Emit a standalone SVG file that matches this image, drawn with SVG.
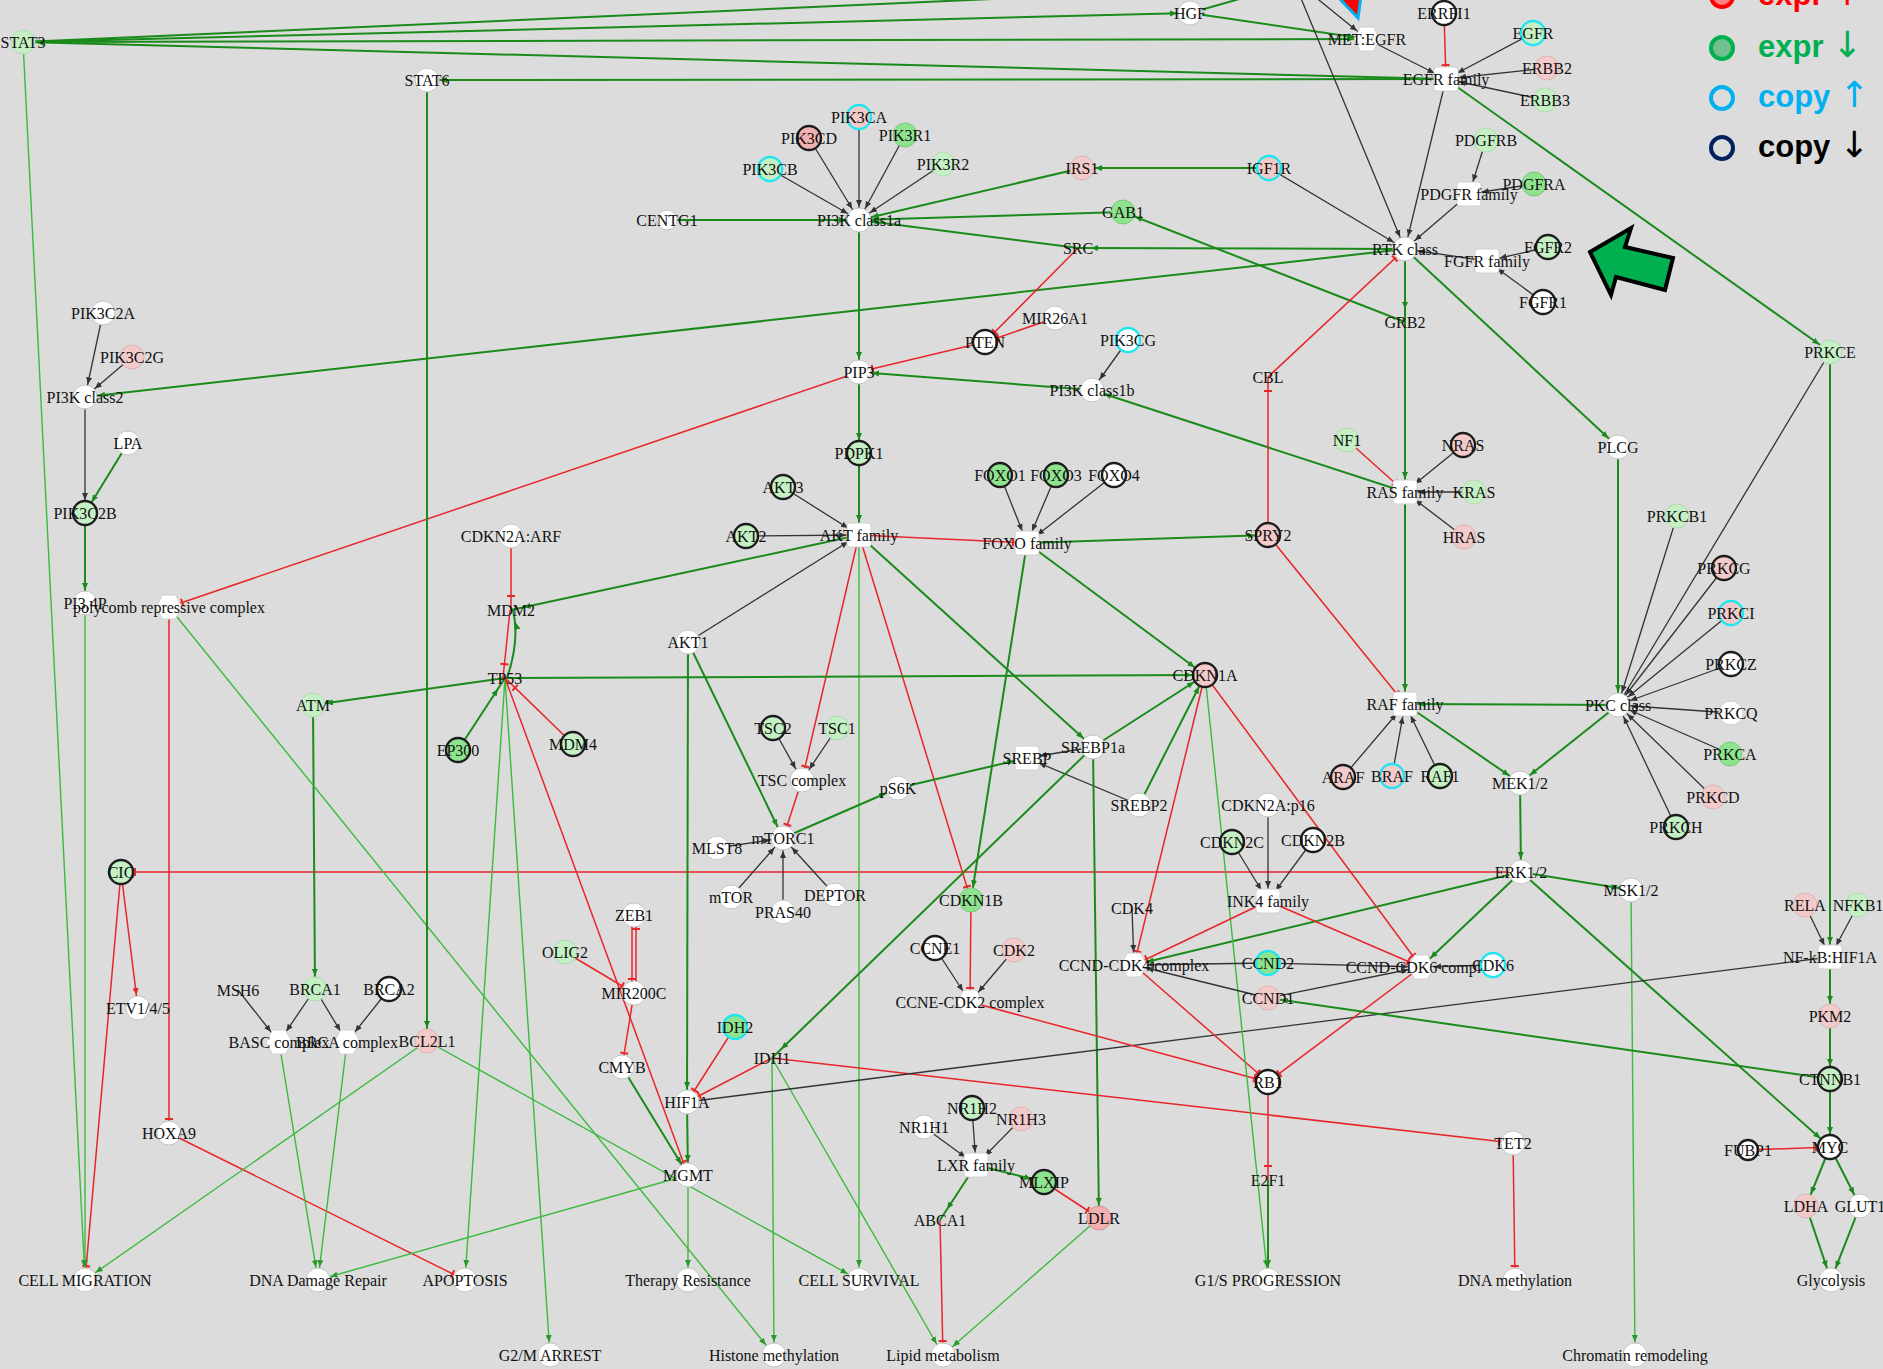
<svg xmlns="http://www.w3.org/2000/svg" width="1883" height="1369" viewBox="0 0 1883 1369">
<style>
.bg{fill:#dcdcdc}
.g{fill:none;stroke:#1a8a1a;stroke-width:2;marker-end:url(#ag)}
.gn{fill:none;stroke:#1a8a1a;stroke-width:2}
.gl{fill:none;stroke:#3cba3c;stroke-width:1.4;marker-end:url(#al)}
.r{fill:none;stroke:#e8262a;stroke-width:1.5;marker-end:url(#tr)}
.ra{fill:none;stroke:#e8262a;stroke-width:1.5;marker-end:url(#ar)}
.k{fill:none;stroke:#333;stroke-width:1.3;marker-end:url(#ak)}
.kn{fill:none;stroke:#333;stroke-width:1.3}
.w{fill:#fff;stroke:#c4c4c4;stroke-width:1}
.n{fill:none;stroke:none}
.g1{fill:#c4f0c4;stroke:#b4d8b4;stroke-width:1}
.g2{fill:#8ee48e;stroke:#7cc87c;stroke-width:1}
.p1{fill:#f2caca;stroke:#dcb4b4;stroke-width:1}
.p2{fill:#f3b0b0;stroke:#d89090;stroke-width:1}
.q{fill:#fff;stroke:#d0d0d0;stroke-width:1}
.dk{stroke:#1c1c1c;stroke-width:2.4}
.cy{stroke:#1ee6f0;stroke-width:2.4}
#nodes text{font-family:"Liberation Serif","Times New Roman",serif;font-size:16px;text-anchor:middle;fill:#111}
.leg{font-family:"Liberation Sans",Arial,sans-serif;font-weight:bold;font-size:31px}
.arw{font-family:"DejaVu Sans",sans-serif;font-weight:normal;font-size:36px}
</style>
<defs>
<marker id="ag" viewBox="0 0 20 8" refX="20" refY="4" markerWidth="20" markerHeight="8" markerUnits="userSpaceOnUse" orient="auto"><path d="M0,1 L7,4 L0,7 z" fill="#1a8a1a"/></marker>
<marker id="al" viewBox="0 0 20 8" refX="20" refY="4" markerWidth="20" markerHeight="8" markerUnits="userSpaceOnUse" orient="auto"><path d="M0,1 L7,4 L0,7 z" fill="#2a9a2a"/></marker>
<marker id="ak" viewBox="0 0 20 8" refX="20" refY="4" markerWidth="20" markerHeight="8" markerUnits="userSpaceOnUse" orient="auto"><path d="M0,1 L7,4 L0,7 z" fill="#333"/></marker>
<marker id="ar" viewBox="0 0 20 8" refX="20" refY="4" markerWidth="20" markerHeight="8" markerUnits="userSpaceOnUse" orient="auto"><path d="M0,1 L7,4 L0,7 z" fill="#e8262a"/></marker>
<marker id="tr" viewBox="0 0 20 10" refX="20" refY="5" markerWidth="20" markerHeight="10" markerUnits="userSpaceOnUse" orient="auto"><path d="M6,1 V9" stroke="#e8262a" stroke-width="2"/></marker>
</defs>
<rect class="bg" x="0" y="0" width="1883" height="1369"/>

<g id="edges">
<line class="gn" x1="23" y1="42" x2="1060" y2="-4"/>
<line class="g" x1="23" y1="42" x2="1190" y2="13"/>
<line class="g" x1="23" y1="42" x2="1367" y2="39"/>
<line class="g" x1="1446" y1="79" x2="23" y2="42"/>
<line class="g" x1="1446" y1="79" x2="427" y2="80"/>
<line class="g" x1="1190" y1="13" x2="1367" y2="39"/>
<line class="gn" x1="1190" y1="13" x2="1250" y2="-4"/>
<line class="k" x1="1300" y1="-4" x2="1405" y2="249"/>
<line class="k" x1="1314" y1="-4" x2="1367" y2="39"/>
<line class="k" x1="1367" y1="39" x2="1446" y2="79"/>
<line class="r" x1="1444" y1="13" x2="1446" y2="79"/>
<line class="k" x1="1533" y1="33" x2="1446" y2="79"/>
<line class="k" x1="1547" y1="68" x2="1446" y2="79"/>
<line class="k" x1="1545" y1="100" x2="1446" y2="79"/>
<line class="k" x1="1446" y1="79" x2="1405" y2="249"/>
<line class="k" x1="1486" y1="140" x2="1469" y2="194"/>
<line class="k" x1="1534" y1="184" x2="1469" y2="194"/>
<line class="k" x1="1469" y1="194" x2="1405" y2="249"/>
<line class="k" x1="1548" y1="247" x2="1487" y2="261"/>
<line class="k" x1="1543" y1="302" x2="1487" y2="261"/>
<line class="k" x1="1487" y1="261" x2="1405" y2="249"/>
<line class="k" x1="1269" y1="168" x2="1405" y2="249"/>
<line class="g" x1="1446" y1="79" x2="1830" y2="352"/>
<line class="g" x1="1405" y1="249" x2="1618" y2="447"/>
<line class="g" x1="1405" y1="249" x2="1405" y2="322"/>
<line class="g" x1="1405" y1="322" x2="1405" y2="492"/>
<line class="g" x1="1405" y1="492" x2="1405" y2="704"/>
<line class="g" x1="1618" y1="705" x2="1405" y2="704"/>
<line class="g" x1="1618" y1="447" x2="1618" y2="705"/>
<line class="g" x1="1405" y1="704" x2="1520" y2="783"/>
<line class="g" x1="1618" y1="705" x2="1520" y2="783"/>
<line class="g" x1="1520" y1="783" x2="1521" y2="872"/>
<line class="g" x1="1521" y1="872" x2="1631" y2="890"/>
<line class="gl" x1="1631" y1="890" x2="1635" y2="1355"/>
<line class="g" x1="1521" y1="872" x2="1830" y2="1147"/>
<line class="g" x1="1521" y1="872" x2="1421" y2="967"/>
<line class="g" x1="1521" y1="872" x2="1134" y2="965"/>
<line class="r" x1="1521" y1="872" x2="121" y2="872"/>
<line class="ra" x1="121" y1="872" x2="138" y2="1008"/>
<line class="r" x1="121" y1="872" x2="85" y2="1280"/>
<line class="gl" x1="23" y1="42" x2="85" y2="1280"/>
<line class="gl" x1="85" y1="603" x2="85" y2="1280"/>
<line class="g" x1="85" y1="513" x2="85" y2="603"/>
<line class="k" x1="85" y1="397" x2="85" y2="513"/>
<line class="g" x1="128" y1="443" x2="85" y2="513"/>
<line class="k" x1="103" y1="313" x2="85" y2="397"/>
<line class="k" x1="132" y1="357" x2="85" y2="397"/>
<line class="g" x1="1405" y1="249" x2="85" y2="397"/>
<line class="g" x1="1405" y1="249" x2="1078" y2="248"/>
<line class="g" x1="1078" y1="248" x2="859" y2="220"/>
<line class="g" x1="1123" y1="212" x2="859" y2="220"/>
<line class="g" x1="1082" y1="168" x2="859" y2="220"/>
<line class="g" x1="1269" y1="168" x2="1082" y2="168"/>
<line class="g" x1="1405" y1="322" x2="1123" y2="212"/>
<line class="r" x1="1078" y1="248" x2="985" y2="342"/>
<line class="r" x1="1055" y1="318" x2="985" y2="342"/>
<line class="r" x1="985" y1="342" x2="859" y2="372"/>
<line class="r" x1="859" y1="372" x2="169" y2="607"/>
<line class="g" x1="859" y1="220" x2="859" y2="372"/>
<line class="g" x1="1092" y1="390" x2="859" y2="372"/>
<line class="k" x1="1128" y1="340" x2="1092" y2="390"/>
<line class="g" x1="1405" y1="492" x2="1092" y2="390"/>
<line class="g" x1="859" y1="372" x2="859" y2="453"/>
<line class="g" x1="859" y1="453" x2="859" y2="535"/>
<line class="k" x1="859" y1="117" x2="859" y2="220"/>
<line class="k" x1="809" y1="138" x2="859" y2="220"/>
<line class="k" x1="905" y1="135" x2="859" y2="220"/>
<line class="k" x1="770" y1="169" x2="859" y2="220"/>
<line class="k" x1="943" y1="164" x2="859" y2="220"/>
<line class="g" x1="667" y1="220" x2="859" y2="220"/>
<line class="r" x1="1347" y1="440" x2="1405" y2="492"/>
<line class="k" x1="1463" y1="445" x2="1405" y2="492"/>
<line class="k" x1="1474" y1="492" x2="1405" y2="492"/>
<line class="k" x1="1464" y1="537" x2="1405" y2="492"/>
<line class="r" x1="1268" y1="377" x2="1405" y2="249"/>
<line class="r" x1="1268" y1="535" x2="1268" y2="377"/>
<line class="r" x1="1268" y1="535" x2="1405" y2="704"/>
<line class="g" x1="1027" y1="543" x2="1268" y2="535"/>
<line class="r" x1="859" y1="535" x2="1027" y2="543"/>
<line class="k" x1="1000" y1="475" x2="1027" y2="543"/>
<line class="k" x1="1056" y1="475" x2="1027" y2="543"/>
<line class="k" x1="1114" y1="475" x2="1027" y2="543"/>
<line class="g" x1="1027" y1="543" x2="1205" y2="675"/>
<line class="g" x1="1027" y1="543" x2="971" y2="900"/>
<line class="g" x1="859" y1="535" x2="1093" y2="747"/>
<line class="r" x1="859" y1="535" x2="971" y2="900"/>
<line class="r" x1="859" y1="535" x2="802" y2="780"/>
<line class="gl" x1="859" y1="535" x2="859" y2="1280"/>
<line class="g" x1="859" y1="535" x2="511" y2="610"/>
<line class="k" x1="688" y1="642" x2="859" y2="535"/>
<line class="k" x1="746" y1="536" x2="859" y2="535"/>
<line class="k" x1="783" y1="487" x2="859" y2="535"/>
<line class="g" x1="688" y1="642" x2="783" y2="838"/>
<line class="g" x1="688" y1="642" x2="687" y2="1102"/>
<line class="r" x1="802" y1="780" x2="783" y2="838"/>
<line class="k" x1="773" y1="728" x2="802" y2="780"/>
<line class="k" x1="837" y1="728" x2="802" y2="780"/>
<line class="g" x1="783" y1="838" x2="898" y2="788"/>
<line class="g" x1="898" y1="788" x2="1027" y2="758"/>
<line class="k" x1="717" y1="848" x2="783" y2="838"/>
<line class="k" x1="731" y1="897" x2="783" y2="838"/>
<line class="k" x1="783" y1="912" x2="783" y2="838"/>
<line class="k" x1="835" y1="895" x2="783" y2="838"/>
<line class="k" x1="1093" y1="747" x2="1027" y2="758"/>
<line class="k" x1="1139" y1="805" x2="1027" y2="758"/>
<line class="g" x1="1093" y1="747" x2="1099" y2="1218"/>
<line class="g" x1="1093" y1="747" x2="1205" y2="675"/>
<line class="g" x1="1139" y1="805" x2="1205" y2="675"/>
<line class="g" x1="505" y1="678" x2="1205" y2="675"/>
<line class="g" x1="505" y1="678" x2="313" y2="705"/>
<line class="g" x1="313" y1="705" x2="315" y2="989"/>
<line class="g" x1="458" y1="750" x2="505" y2="678"/>
<line class="r" x1="573" y1="744" x2="505" y2="678"/>
<line class="r" x1="510" y1="610" x2="503" y2="678"/>
<path class="g" d="M507,678 Q520,640 513,610"/>
<line class="r" x1="511" y1="536" x2="511" y2="610"/>
<line class="gl" x1="505" y1="678" x2="465" y2="1280"/>
<line class="gl" x1="505" y1="678" x2="550" y2="1355"/>
<line class="r" x1="505" y1="678" x2="688" y2="1175"/>
<line class="r" x1="632" y1="915" x2="632" y2="993"/>
<line class="r" x1="636" y1="993" x2="636" y2="915"/>
<line class="r" x1="565" y1="952" x2="634" y2="993"/>
<line class="r" x1="634" y1="993" x2="622" y2="1067"/>
<line class="g" x1="622" y1="1067" x2="688" y2="1175"/>
<line class="g" x1="687" y1="1102" x2="688" y2="1175"/>
<line class="r" x1="735" y1="1027" x2="687" y2="1102"/>
<line class="r" x1="772" y1="1058" x2="687" y2="1102"/>
<line class="r" x1="772" y1="1058" x2="1513" y2="1143"/>
<line class="r" x1="1513" y1="1143" x2="1515" y2="1280"/>
<line class="gl" x1="772" y1="1058" x2="774" y2="1355"/>
<line class="gl" x1="772" y1="1058" x2="943" y2="1355"/>
<line class="g" x1="1093" y1="747" x2="772" y2="1058"/>
<line class="kn" x1="687" y1="1102" x2="1830" y2="957"/>
<line class="r" x1="169" y1="607" x2="169" y2="1133"/>
<line class="r" x1="169" y1="1133" x2="465" y2="1280"/>
<line class="gl" x1="169" y1="607" x2="774" y2="1355"/>
<line class="gl" x1="427" y1="1041" x2="85" y2="1280"/>
<line class="gl" x1="427" y1="1041" x2="859" y2="1280"/>
<line class="gl" x1="688" y1="1175" x2="318" y2="1280"/>
<line class="gl" x1="688" y1="1175" x2="688" y2="1280"/>
<line class="gl" x1="279" y1="1042" x2="318" y2="1280"/>
<line class="gl" x1="347" y1="1042" x2="318" y2="1280"/>
<line class="k" x1="238" y1="990" x2="279" y2="1042"/>
<line class="k" x1="315" y1="989" x2="279" y2="1042"/>
<line class="k" x1="315" y1="989" x2="347" y2="1042"/>
<line class="k" x1="389" y1="989" x2="347" y2="1042"/>
<line class="g" x1="427" y1="80" x2="427" y2="1041"/>
<line class="k" x1="935" y1="948" x2="970" y2="1002"/>
<line class="k" x1="1014" y1="950" x2="970" y2="1002"/>
<line class="r" x1="971" y1="900" x2="970" y2="1002"/>
<line class="r" x1="970" y1="1002" x2="1268" y2="1082"/>
<line class="r" x1="1134" y1="965" x2="1268" y2="1082"/>
<line class="r" x1="1421" y1="967" x2="1268" y2="1082"/>
<line class="r" x1="1268" y1="1082" x2="1268" y2="1180"/>
<line class="g" x1="1268" y1="1180" x2="1268" y2="1280"/>
<line class="gl" x1="1205" y1="675" x2="1268" y2="1280"/>
<line class="r" x1="1205" y1="675" x2="1134" y2="965"/>
<line class="r" x1="1205" y1="675" x2="1421" y2="967"/>
<line class="r" x1="1268" y1="901" x2="1134" y2="965"/>
<line class="r" x1="1268" y1="901" x2="1421" y2="967"/>
<line class="k" x1="1268" y1="805" x2="1268" y2="901"/>
<line class="k" x1="1232" y1="842" x2="1268" y2="901"/>
<line class="k" x1="1313" y1="840" x2="1268" y2="901"/>
<line class="k" x1="1132" y1="908" x2="1134" y2="965"/>
<line class="k" x1="1268" y1="963" x2="1134" y2="965"/>
<line class="k" x1="1268" y1="963" x2="1421" y2="967"/>
<line class="k" x1="1268" y1="998" x2="1134" y2="965"/>
<line class="k" x1="1268" y1="998" x2="1421" y2="967"/>
<line class="k" x1="1493" y1="965" x2="1421" y2="967"/>
<line class="g" x1="1830" y1="1079" x2="1268" y2="998"/>
<line class="g" x1="1830" y1="957" x2="1830" y2="1016"/>
<line class="g" x1="1830" y1="1016" x2="1830" y2="1079"/>
<line class="g" x1="1830" y1="1079" x2="1830" y2="1147"/>
<line class="r" x1="1748" y1="1150" x2="1830" y2="1147"/>
<line class="g" x1="1830" y1="1147" x2="1806" y2="1206"/>
<line class="g" x1="1830" y1="1147" x2="1860" y2="1206"/>
<line class="g" x1="1806" y1="1206" x2="1831" y2="1280"/>
<line class="g" x1="1860" y1="1206" x2="1831" y2="1280"/>
<line class="k" x1="1805" y1="905" x2="1830" y2="957"/>
<line class="k" x1="1858" y1="905" x2="1830" y2="957"/>
<line class="g" x1="1830" y1="352" x2="1830" y2="957"/>
<line class="kn" x1="1830" y1="352" x2="1618" y2="705"/>
<line class="k" x1="1677" y1="516" x2="1618" y2="705"/>
<line class="k" x1="1724" y1="568" x2="1618" y2="705"/>
<line class="k" x1="1731" y1="613" x2="1618" y2="705"/>
<line class="k" x1="1731" y1="664" x2="1618" y2="705"/>
<line class="k" x1="1731" y1="713" x2="1618" y2="705"/>
<line class="k" x1="1730" y1="754" x2="1618" y2="705"/>
<line class="k" x1="1713" y1="797" x2="1618" y2="705"/>
<line class="k" x1="1676" y1="827" x2="1618" y2="705"/>
<line class="k" x1="1343" y1="777" x2="1405" y2="704"/>
<line class="k" x1="1392" y1="776" x2="1405" y2="704"/>
<line class="k" x1="1440" y1="776" x2="1405" y2="704"/>
<line class="g" x1="976" y1="1165" x2="940" y2="1220"/>
<line class="g" x1="976" y1="1165" x2="1044" y2="1182"/>
<line class="r" x1="1044" y1="1182" x2="1099" y2="1218"/>
<line class="k" x1="924" y1="1127" x2="976" y2="1165"/>
<line class="k" x1="972" y1="1108" x2="976" y2="1165"/>
<line class="k" x1="1021" y1="1119" x2="976" y2="1165"/>
<line class="r" x1="940" y1="1220" x2="943" y2="1355"/>
<line class="gl" x1="1099" y1="1218" x2="943" y2="1355"/>
</g>

<g id="nodes">
<g id="n-STAT3"><circle cx="23" cy="42" r="12" class="g1"/><text x="23" y="47.5">STAT3</text></g>
<g id="n-STAT6"><circle cx="427" cy="80" r="12" class="w"/><text x="427" y="85.5">STAT6</text></g>
<g id="n-HGF"><circle cx="1190" cy="13" r="12" class="w"/><text x="1190" y="18.5">HGF</text></g>
<g id="n-MET_EGFR"><polygon points="1354,39 1360.5,27 1373.5,27 1380,39 1373.5,51 1360.5,51" class="q"/><text x="1367" y="44.5">MET:EGFR</text></g>
<g id="n-ERRFI1"><circle cx="1444" cy="13" r="12" class="w dk"/><text x="1444" y="18.5">ERRFI1</text></g>
<g id="n-EGFR"><circle cx="1533" cy="33" r="12" class="g1 cy"/><text x="1533" y="38.5">EGFR</text></g>
<g id="n-EGFR_family"><rect x="1434" y="67" width="24" height="24" rx="3" class="q"/><text x="1446" y="84.5">EGFR family</text></g>
<g id="n-ERBB2"><circle cx="1547" cy="68" r="12" class="p1"/><text x="1547" y="73.5">ERBB2</text></g>
<g id="n-ERBB3"><circle cx="1545" cy="100" r="12" class="g1"/><text x="1545" y="105.5">ERBB3</text></g>
<g id="n-PDGFRB"><circle cx="1486" cy="140" r="12" class="g1"/><text x="1486" y="145.5">PDGFRB</text></g>
<g id="n-PDGFR_family"><rect x="1457" y="182" width="24" height="24" rx="3" class="q"/><text x="1469" y="199.5">PDGFR family</text></g>
<g id="n-PDGFRA"><circle cx="1534" cy="184" r="12" class="g2"/><text x="1534" y="189.5">PDGFRA</text></g>
<g id="n-FGFR_family"><rect x="1475" y="249" width="24" height="24" rx="3" class="q"/><text x="1487" y="266.5">FGFR family</text></g>
<g id="n-FGFR2"><circle cx="1548" cy="247" r="12" class="g1 dk"/><text x="1548" y="252.5">FGFR2</text></g>
<g id="n-FGFR1"><circle cx="1543" cy="302" r="12" class="w dk"/><text x="1543" y="307.5">FGFR1</text></g>
<g id="n-RTK_class"><circle cx="1405" cy="249" r="12" class="w"/><text x="1405" y="254.5">RTK class</text></g>
<g id="n-PIK3CA"><circle cx="859" cy="117" r="12" class="p1 cy"/><text x="859" y="122.5">PIK3CA</text></g>
<g id="n-PIK3CD"><circle cx="809" cy="138" r="12" class="p2 dk"/><text x="809" y="143.5">PIK3CD</text></g>
<g id="n-PIK3R1"><circle cx="905" cy="135" r="12" class="g2"/><text x="905" y="140.5">PIK3R1</text></g>
<g id="n-PIK3CB"><circle cx="770" cy="169" r="12" class="g1 cy"/><text x="770" y="174.5">PIK3CB</text></g>
<g id="n-PIK3R2"><circle cx="943" cy="164" r="12" class="g1"/><text x="943" y="169.5">PIK3R2</text></g>
<g id="n-PI3K_class1a"><circle cx="859" cy="220" r="12" class="w"/><text x="859" y="225.5">PI3K class1a</text></g>
<g id="n-CENTG1"><circle cx="667" cy="220" r="10" class="w"/><text x="667" y="225.5">CENTG1</text></g>
<g id="n-IRS1"><circle cx="1082" cy="168" r="12" class="p1"/><text x="1082" y="173.5">IRS1</text></g>
<g id="n-IGF1R"><circle cx="1269" cy="168" r="12" class="p1 cy"/><text x="1269" y="173.5">IGF1R</text></g>
<g id="n-GAB1"><circle cx="1123" cy="212" r="12" class="g2"/><text x="1123" y="217.5">GAB1</text></g>
<g id="n-SRC"><circle cx="1078" cy="248" r="12" class="n"/><text x="1078" y="253.5">SRC</text></g>
<g id="n-GRB2"><circle cx="1405" cy="322" r="12" class="n"/><text x="1405" y="327.5">GRB2</text></g>
<g id="n-MIR26A1"><circle cx="1055" cy="318" r="12" class="w"/><text x="1055" y="323.5">MIR26A1</text></g>
<g id="n-PTEN"><circle cx="985" cy="342" r="12" class="w dk"/><text x="985" y="347.5">PTEN</text></g>
<g id="n-PIK3CG"><circle cx="1128" cy="340" r="12" class="w cy"/><text x="1128" y="345.5">PIK3CG</text></g>
<g id="n-PI3K_class1b"><circle cx="1092" cy="390" r="12" class="w"/><text x="1092" y="395.5">PI3K class1b</text></g>
<g id="n-CBL"><circle cx="1268" cy="377" r="12" class="n"/><text x="1268" y="382.5">CBL</text></g>
<g id="n-PIP3"><circle cx="859" cy="372" r="12" class="w"/><text x="859" y="377.5">PIP3</text></g>
<g id="n-PDPK1"><circle cx="859" cy="453" r="12" class="g1 dk"/><text x="859" y="458.5">PDPK1</text></g>
<g id="n-NF1"><circle cx="1347" cy="440" r="12" class="g1"/><text x="1347" y="445.5">NF1</text></g>
<g id="n-NRAS"><circle cx="1463" cy="445" r="12" class="p1 dk"/><text x="1463" y="450.5">NRAS</text></g>
<g id="n-RAS_family"><rect x="1393" y="480" width="24" height="24" rx="3" class="q"/><text x="1405" y="497.5">RAS family</text></g>
<g id="n-KRAS"><circle cx="1474" cy="492" r="12" class="g1"/><text x="1474" y="497.5">KRAS</text></g>
<g id="n-HRAS"><circle cx="1464" cy="537" r="12" class="p1"/><text x="1464" y="542.5">HRAS</text></g>
<g id="n-PLCG"><circle cx="1618" cy="447" r="12" class="w"/><text x="1618" y="452.5">PLCG</text></g>
<g id="n-PRKCE"><circle cx="1830" cy="352" r="12" class="g1"/><text x="1830" y="357.5">PRKCE</text></g>
<g id="n-PIK3C2A"><circle cx="103" cy="313" r="12" class="w"/><text x="103" y="318.5">PIK3C2A</text></g>
<g id="n-PIK3C2G"><circle cx="132" cy="357" r="12" class="p1"/><text x="132" y="362.5">PIK3C2G</text></g>
<g id="n-PI3K_class2"><circle cx="85" cy="397" r="12" class="w"/><text x="85" y="402.5">PI3K class2</text></g>
<g id="n-LPA"><circle cx="128" cy="443" r="12" class="w"/><text x="128" y="448.5">LPA</text></g>
<g id="n-PIK3C2B"><circle cx="85" cy="513" r="12" class="g1 dk"/><text x="85" y="518.5">PIK3C2B</text></g>
<g id="n-PI34P"><circle cx="85" cy="603" r="12" class="w"/><text x="85" y="608.5">PI3,4P</text></g>
<g id="n-polycomb"><polygon points="156,607 162.5,595 175.5,595 182,607 175.5,619 162.5,619" class="q"/><text x="169" y="612.5">polycomb repressive complex</text></g>
<g id="n-CDKN2A_ARF"><circle cx="511" cy="536" r="12" class="w"/><text x="511" y="541.5">CDKN2A:ARF</text></g>
<g id="n-MDM2"><circle cx="511" cy="610" r="12" class="n"/><text x="511" y="615.5">MDM2</text></g>
<g id="n-TP53"><circle cx="505" cy="678" r="12" class="n"/><text x="505" y="683.5">TP53</text></g>
<g id="n-ATM"><circle cx="313" cy="705" r="12" class="g1"/><text x="313" y="710.5">ATM</text></g>
<g id="n-EP300"><circle cx="458" cy="750" r="12" class="g2 dk"/><text x="458" y="755.5">EP300</text></g>
<g id="n-MDM4"><circle cx="573" cy="744" r="12" class="g1 dk"/><text x="573" y="749.5">MDM4</text></g>
<g id="n-AKT3"><circle cx="783" cy="487" r="12" class="g1 dk"/><text x="783" y="492.5">AKT3</text></g>
<g id="n-AKT2"><circle cx="746" cy="536" r="12" class="g1 dk"/><text x="746" y="541.5">AKT2</text></g>
<g id="n-AKT_family"><rect x="847" y="523" width="24" height="24" rx="3" class="q"/><text x="859" y="540.5">AKT family</text></g>
<g id="n-AKT1"><circle cx="688" cy="642" r="12" class="w"/><text x="688" y="647.5">AKT1</text></g>
<g id="n-FOXO1"><circle cx="1000" cy="475" r="12" class="g2 dk"/><text x="1000" y="480.5">FOXO1</text></g>
<g id="n-FOXO3"><circle cx="1056" cy="475" r="12" class="g2 dk"/><text x="1056" y="480.5">FOXO3</text></g>
<g id="n-FOXO4"><circle cx="1114" cy="475" r="12" class="w dk"/><text x="1114" y="480.5">FOXO4</text></g>
<g id="n-FOXO_family"><rect x="1015" y="531" width="24" height="24" rx="3" class="q"/><text x="1027" y="548.5">FOXO family</text></g>
<g id="n-SPRY2"><circle cx="1268" cy="535" r="12" class="p1 dk"/><text x="1268" y="540.5">SPRY2</text></g>
<g id="n-CDKN1A"><circle cx="1205" cy="675" r="12" class="p1 dk"/><text x="1205" y="680.5">CDKN1A</text></g>
<g id="n-TSC2"><circle cx="773" cy="728" r="12" class="g1 dk"/><text x="773" y="733.5">TSC2</text></g>
<g id="n-TSC1"><circle cx="837" cy="728" r="12" class="g1"/><text x="837" y="733.5">TSC1</text></g>
<g id="n-TSC_complex"><circle cx="802" cy="780" r="12" class="w"/><text x="802" y="785.5">TSC complex</text></g>
<g id="n-pS6K"><circle cx="898" cy="788" r="12" class="w"/><text x="898" y="793.5">pS6K</text></g>
<g id="n-mTORC1"><circle cx="783" cy="838" r="12" class="w"/><text x="783" y="843.5">mTORC1</text></g>
<g id="n-MLST8"><circle cx="717" cy="848" r="12" class="w"/><text x="717" y="853.5">MLST8</text></g>
<g id="n-mTOR"><circle cx="731" cy="897" r="12" class="w"/><text x="731" y="902.5">mTOR</text></g>
<g id="n-PRAS40"><circle cx="783" cy="912" r="12" class="w"/><text x="783" y="917.5">PRAS40</text></g>
<g id="n-DEPTOR"><circle cx="835" cy="895" r="12" class="w"/><text x="835" y="900.5">DEPTOR</text></g>
<g id="n-SREBP"><rect x="1015" y="746" width="24" height="24" rx="3" class="q"/><text x="1027" y="763.5">SREBP</text></g>
<g id="n-SREBP1a"><circle cx="1093" cy="747" r="12" class="w"/><text x="1093" y="752.5">SREBP1a</text></g>
<g id="n-SREBP2"><circle cx="1139" cy="805" r="12" class="w"/><text x="1139" y="810.5">SREBP2</text></g>
<g id="n-RAF_family"><rect x="1393" y="692" width="24" height="24" rx="3" class="q"/><text x="1405" y="709.5">RAF family</text></g>
<g id="n-ARAF"><circle cx="1343" cy="777" r="12" class="p1 dk"/><text x="1343" y="782.5">ARAF</text></g>
<g id="n-BRAF"><circle cx="1392" cy="776" r="12" class="p1 cy"/><text x="1392" y="781.5">BRAF</text></g>
<g id="n-RAF1"><circle cx="1440" cy="776" r="12" class="g1 dk"/><text x="1440" y="781.5">RAF1</text></g>
<g id="n-PKC_class"><circle cx="1618" cy="705" r="12" class="w"/><text x="1618" y="710.5">PKC class</text></g>
<g id="n-PRKCB1"><circle cx="1677" cy="516" r="12" class="g1"/><text x="1677" y="521.5">PRKCB1</text></g>
<g id="n-PRKCG"><circle cx="1724" cy="568" r="12" class="p1 dk"/><text x="1724" y="573.5">PRKCG</text></g>
<g id="n-PRKCI"><circle cx="1731" cy="613" r="12" class="p1 cy"/><text x="1731" y="618.5">PRKCI</text></g>
<g id="n-PRKCZ"><circle cx="1731" cy="664" r="12" class="w dk"/><text x="1731" y="669.5">PRKCZ</text></g>
<g id="n-PRKCQ"><circle cx="1731" cy="713" r="12" class="q"/><text x="1731" y="718.5">PRKCQ</text></g>
<g id="n-PRKCA"><circle cx="1730" cy="754" r="12" class="g2"/><text x="1730" y="759.5">PRKCA</text></g>
<g id="n-PRKCD"><circle cx="1713" cy="797" r="12" class="p1"/><text x="1713" y="802.5">PRKCD</text></g>
<g id="n-PRKCH"><circle cx="1676" cy="827" r="12" class="g1 dk"/><text x="1676" y="832.5">PRKCH</text></g>
<g id="n-MEK12"><circle cx="1520" cy="783" r="12" class="w"/><text x="1520" y="788.5">MEK1/2</text></g>
<g id="n-ERK12"><circle cx="1521" cy="872" r="12" class="w"/><text x="1521" y="877.5">ERK1/2</text></g>
<g id="n-MSK12"><circle cx="1631" cy="890" r="12" class="w"/><text x="1631" y="895.5">MSK1/2</text></g>
<g id="n-CDKN2A_p16"><circle cx="1268" cy="805" r="12" class="w"/><text x="1268" y="810.5">CDKN2A:p16</text></g>
<g id="n-CDKN2C"><circle cx="1232" cy="842" r="12" class="g1 dk"/><text x="1232" y="847.5">CDKN2C</text></g>
<g id="n-CDKN2B"><circle cx="1313" cy="840" r="12" class="w dk"/><text x="1313" y="845.5">CDKN2B</text></g>
<g id="n-INK4_family"><rect x="1256" y="889" width="24" height="24" rx="3" class="q"/><text x="1268" y="906.5">INK4 family</text></g>
<g id="n-CDKN1B"><circle cx="971" cy="900" r="12" class="g2"/><text x="971" y="905.5">CDKN1B</text></g>
<g id="n-CDK4"><circle cx="1132" cy="908" r="12" class="n"/><text x="1132" y="913.5">CDK4</text></g>
<g id="n-CIC"><circle cx="121" cy="872" r="12" class="g1 dk"/><text x="121" y="877.5">CIC</text></g>
<g id="n-ETV145"><circle cx="138" cy="1008" r="12" class="w"/><text x="138" y="1013.5">ETV1/4/5</text></g>
<g id="n-MSH6"><circle cx="238" cy="990" r="12" class="n"/><text x="238" y="995.5">MSH6</text></g>
<g id="n-BRCA1"><circle cx="315" cy="989" r="12" class="g1"/><text x="315" y="994.5">BRCA1</text></g>
<g id="n-BRCA2"><circle cx="389" cy="989" r="12" class="w dk"/><text x="389" y="994.5">BRCA2</text></g>
<g id="n-BASC_complex"><polygon points="266,1042 272.5,1030 285.5,1030 292,1042 285.5,1054 272.5,1054" class="q"/><text x="279" y="1047.5">BASC complex</text></g>
<g id="n-BRCA_complex"><polygon points="334,1042 340.5,1030 353.5,1030 360,1042 353.5,1054 340.5,1054" class="q"/><text x="347" y="1047.5">BRCA complex</text></g>
<g id="n-BCL2L1"><circle cx="427" cy="1041" r="12" class="p1"/><text x="427" y="1046.5">BCL2L1</text></g>
<g id="n-HOXA9"><circle cx="169" cy="1133" r="12" class="w"/><text x="169" y="1138.5">HOXA9</text></g>
<g id="n-ZEB1"><circle cx="634" cy="915" r="12" class="w"/><text x="634" y="920.5">ZEB1</text></g>
<g id="n-OLIG2"><circle cx="565" cy="952" r="12" class="g1"/><text x="565" y="957.5">OLIG2</text></g>
<g id="n-MIR200C"><circle cx="634" cy="993" r="12" class="w"/><text x="634" y="998.5">MIR200C</text></g>
<g id="n-IDH2"><circle cx="735" cy="1027" r="12" class="g2 cy"/><text x="735" y="1032.5">IDH2</text></g>
<g id="n-IDH1"><circle cx="772" cy="1058" r="12" class="n"/><text x="772" y="1063.5">IDH1</text></g>
<g id="n-CMYB"><circle cx="622" cy="1067" r="12" class="w"/><text x="622" y="1072.5">CMYB</text></g>
<g id="n-HIF1A"><circle cx="687" cy="1102" r="12" class="w"/><text x="687" y="1107.5">HIF1A</text></g>
<g id="n-MGMT"><circle cx="688" cy="1175" r="12" class="w"/><text x="688" y="1180.5">MGMT</text></g>
<g id="n-CCNE1"><circle cx="935" cy="948" r="12" class="w dk"/><text x="935" y="953.5">CCNE1</text></g>
<g id="n-CDK2"><circle cx="1014" cy="950" r="12" class="p1"/><text x="1014" y="955.5">CDK2</text></g>
<g id="n-CCNE_CDK2"><polygon points="957,1002 963.5,990 976.5,990 983,1002 976.5,1014 963.5,1014" class="q"/><text x="970" y="1007.5">CCNE-CDK2 complex</text></g>
<g id="n-CCND_CDK4"><polygon points="1121,965 1127.5,953 1140.5,953 1147,965 1140.5,977 1127.5,977" class="q"/><text x="1134" y="970.5">CCND-CDK4 complex</text></g>
<g id="n-CCND2"><circle cx="1268" cy="963" r="12" class="g2 cy"/><text x="1268" y="968.5">CCND2</text></g>
<g id="n-CCND1"><circle cx="1268" cy="998" r="12" class="p1"/><text x="1268" y="1003.5">CCND1</text></g>
<g id="n-CCND_CDK6"><polygon points="1408,967 1414.5,955 1427.5,955 1434,967 1427.5,979 1414.5,979" class="q"/><text x="1421" y="972.5">CCND-CDK6 complex</text></g>
<g id="n-CDK6"><circle cx="1493" cy="965" r="12" class="w cy"/><text x="1493" y="970.5">CDK6</text></g>
<g id="n-RB1"><circle cx="1268" cy="1082" r="12" class="w dk"/><text x="1268" y="1087.5">RB1</text></g>
<g id="n-E2F1"><circle cx="1268" cy="1180" r="12" class="n"/><text x="1268" y="1185.5">E2F1</text></g>
<g id="n-NR1H1"><circle cx="924" cy="1127" r="12" class="w"/><text x="924" y="1132.5">NR1H1</text></g>
<g id="n-NR1H2"><circle cx="972" cy="1108" r="12" class="g1 dk"/><text x="972" y="1113.5">NR1H2</text></g>
<g id="n-NR1H3"><circle cx="1021" cy="1119" r="12" class="p1"/><text x="1021" y="1124.5">NR1H3</text></g>
<g id="n-LXR_family"><rect x="964" y="1153" width="24" height="24" rx="3" class="q"/><text x="976" y="1170.5">LXR family</text></g>
<g id="n-MLXIP"><circle cx="1044" cy="1182" r="12" class="g2 dk"/><text x="1044" y="1187.5">MLXIP</text></g>
<g id="n-ABCA1"><circle cx="940" cy="1220" r="12" class="n"/><text x="940" y="1225.5">ABCA1</text></g>
<g id="n-LDLR"><circle cx="1099" cy="1218" r="12" class="p2"/><text x="1099" y="1223.5">LDLR</text></g>
<g id="n-TET2"><circle cx="1513" cy="1143" r="12" class="w"/><text x="1513" y="1148.5">TET2</text></g>
<g id="n-NFkB_HIF1A"><rect x="1818" y="945" width="24" height="24" rx="3" class="q"/><text x="1830" y="962.5">NF-kB:HIF1A</text></g>
<g id="n-RELA"><circle cx="1805" cy="905" r="12" class="p1"/><text x="1805" y="910.5">RELA</text></g>
<g id="n-NFKB1"><circle cx="1858" cy="905" r="12" class="g1"/><text x="1858" y="910.5">NFKB1</text></g>
<g id="n-PKM2"><circle cx="1830" cy="1016" r="12" class="p1"/><text x="1830" y="1021.5">PKM2</text></g>
<g id="n-CTNNB1"><circle cx="1830" cy="1079" r="12" class="g1 dk"/><text x="1830" y="1084.5">CTNNB1</text></g>
<g id="n-MYC"><circle cx="1830" cy="1147" r="12" class="w dk"/><text x="1830" y="1152.5">MYC</text></g>
<g id="n-FUBP1"><circle cx="1748" cy="1150" r="10" class="w dk"/><text x="1748" y="1155.5">FUBP1</text></g>
<g id="n-LDHA"><circle cx="1806" cy="1206" r="12" class="p1"/><text x="1806" y="1211.5">LDHA</text></g>
<g id="n-GLUT1"><circle cx="1860" cy="1206" r="12" class="w"/><text x="1860" y="1211.5">GLUT1</text></g>
<g id="n-CELL_MIGRATION"><circle cx="85" cy="1280" r="12" class="w"/><text x="85" y="1285.5">CELL MIGRATION</text></g>
<g id="n-DNA_Damage_Repair"><circle cx="318" cy="1280" r="12" class="w"/><text x="318" y="1285.5">DNA Damage Repair</text></g>
<g id="n-APOPTOSIS"><circle cx="465" cy="1280" r="12" class="w"/><text x="465" y="1285.5">APOPTOSIS</text></g>
<g id="n-Therapy_Resistance"><circle cx="688" cy="1280" r="12" class="w"/><text x="688" y="1285.5">Therapy Resistance</text></g>
<g id="n-CELL_SURVIVAL"><circle cx="859" cy="1280" r="12" class="w"/><text x="859" y="1285.5">CELL SURVIVAL</text></g>
<g id="n-G1S"><circle cx="1268" cy="1280" r="12" class="w"/><text x="1268" y="1285.5">G1/S PROGRESSION</text></g>
<g id="n-DNA_methylation"><circle cx="1515" cy="1280" r="12" class="w"/><text x="1515" y="1285.5">DNA methylation</text></g>
<g id="n-Glycolysis"><circle cx="1831" cy="1280" r="12" class="w"/><text x="1831" y="1285.5">Glycolysis</text></g>
<g id="n-G2M"><circle cx="550" cy="1355" r="12" class="w"/><text x="550" y="1360.5">G2/M ARREST</text></g>
<g id="n-Histone_methylation"><circle cx="774" cy="1355" r="12" class="w"/><text x="774" y="1360.5">Histone methylation</text></g>
<g id="n-Lipid_metabolism"><circle cx="943" cy="1355" r="12" class="w"/><text x="943" y="1360.5">Lipid metabolism</text></g>
<g id="n-Chromatin_remodeling"><circle cx="1635" cy="1355" r="12" class="w"/><text x="1635" y="1360.5">Chromatin remodeling</text></g>
</g>

<g id="annotations">
<polygon points="1590,252 1631,228 1625,247 1673,258 1665,290 1616,277 1611,295" fill="#00b050" stroke="#000" stroke-width="4" stroke-linejoin="miter"/>
<polygon points="1337,-4 1358,18 1361,-4" fill="#ff0000" stroke="#00b0f0" stroke-width="3"/>
</g>

<g id="legend">
<circle cx="1722" cy="-4" r="11" fill="#ff8080" stroke="#ff0000" stroke-width="4"/>
<text class="leg" x="1758" y="5" fill="#ff0000">expr <tspan class="arw">↑</tspan></text>
<circle cx="1722" cy="48" r="11" fill="#70c090" stroke="#00b050" stroke-width="4"/>
<text class="leg" x="1758" y="57" fill="#00b050">expr <tspan class="arw">↓</tspan></text>
<circle cx="1722" cy="98" r="11" fill="none" stroke="#00b0f0" stroke-width="4"/>
<text class="leg" x="1758" y="107" fill="#00b0f0">copy <tspan class="arw">↑</tspan></text>
<circle cx="1722" cy="148" r="11" fill="none" stroke="#002060" stroke-width="4"/>
<text class="leg" x="1758" y="157" fill="#000">copy <tspan class="arw">↓</tspan></text>
</g>
</svg>
